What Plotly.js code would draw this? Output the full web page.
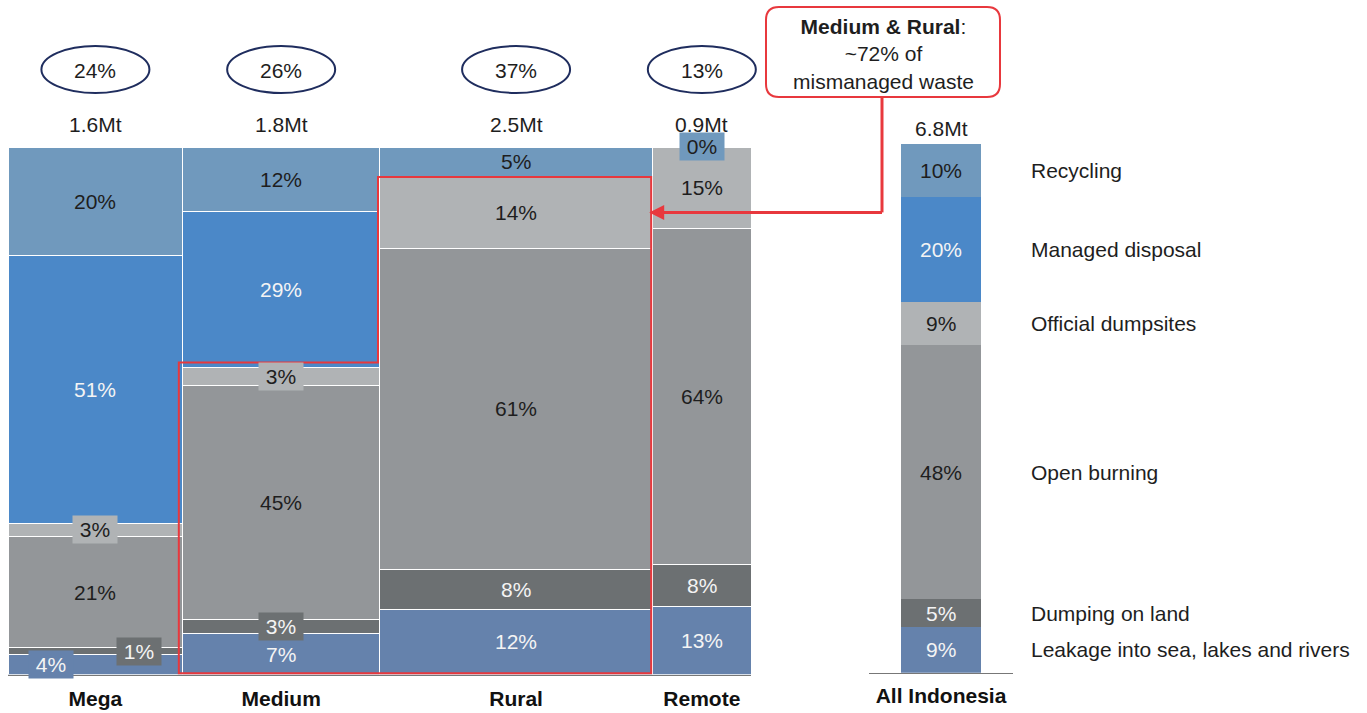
<!DOCTYPE html>
<html>
<head>
<meta charset="utf-8">
<script src="https://cdn.plot.ly/plotly-3.0.1.min.js"></script>
<style>html,body{margin:0;padding:0;background:#fff;}#chart{width:1367px;height:713px;}</style>
</head>
<body>
<div id="chart"></div>
<script>
// ---------- DATA ----------
const categories = ['Mega', 'Medium', 'Rural', 'Remote'];
const tonnes = [1.6, 1.8, 2.5, 0.9];           // Mt of waste per settlement type
const tonneLabels = ['1.6Mt', '1.8Mt', '2.5Mt', '0.9Mt'];
const streams = ['Recycling', 'Managed disposal', 'Official dumpsites', 'Open burning', 'Dumping on land', 'Leakage into sea, lakes and rivers'];

// share (%) of each stream, per category
const recycling = [20.5, 12.3, 5.5, 0];
const managed   = [50.8, 29.5, 0, 0];
const official  = [2.6, 3.5, 13.8, 15.5];
const burning   = [21.0, 44.3, 60.7, 63.7];
const dumping   = [1.3, 2.7, 7.6, 8.0];
const leakage   = [3.8, 7.7, 12.4, 12.8];

// printed labels
const recyclingLbl = ['20%', '12%', '5%', '0%'];
const managedLbl   = ['51%', '29%', '', ''];
const officialLbl  = ['3%', '3%', '14%', '15%'];
const burningLbl   = ['21%', '45%', '61%', '64%'];
const dumpingLbl   = ['1%', '3%', '8%', '8%'];
const leakageLbl   = ['4%', '7%', '12%', '13%'];

// All Indonesia column
const allLabel = 'All Indonesia';
const allTonnes = '6.8Mt';
const allShares = [10.0, 19.9, 8.1, 48.1, 5.3, 8.6];   // same order as streams
const allShareLbl = ['10%', '20%', '9%', '48%', '5%', '9%'];

const calloutTitle = 'Medium & Rural';
const calloutBody = '~72% of<br>mismanaged waste';

// ---------- STYLE ----------
const colors = ['#7099bd', '#4b88c8', '#b0b3b5', '#939699', '#6c7072', '#6582ac'];
const lightText = [false, true, false, false, true, true];
const RED = '#e8383d';
const NAVY = '#1f2d5e';
const FONT = 'Liberation Sans, Arial, Helvetica, sans-serif';
const FS = 21;
const W = 1367, H = 713;
const X0 = 8, X1 = 751, YB = 674.5, YT = 147;       // main plot area (px)
const AX0 = 869, AX1 = 1013, AYB = 672.7, AYT = 144; // All Indonesia area (px)

const totalMt = tonnes.reduce((a, b) => a + b, 0);
const lefts = []; let acc = 0;
tonnes.forEach(t => { lefts.push(acc); acc += t; });
const centers = tonnes.map((t, i) => lefts[i] + t / 2);

const pxX = x => X0 + x / totalMt * (X1 - X0);
const pxY = y => YB - y / 100 * (YB - YT);
const paperX = p => p / W;
const paperY = p => 1 - p / H;

const series = [recycling, managed, official, burning, dumping, leakage];
const seriesLbl = [recyclingLbl, managedLbl, officialLbl, burningLbl, dumpingLbl, leakageLbl];

// stacking order bottom-up: leakage first
const order = [5, 4, 3, 2, 1, 0];
const traces = [];
order.forEach(k => {
  traces.push({
    type: 'bar', x: centers, y: series[k], width: tonnes,
    marker: {color: colors[k], line: {color: '#ffffff', width: 1}},
    name: streams[k], hoverinfo: 'skip', showlegend: false,
    xaxis: 'x', yaxis: 'y'
  });
  traces.push({
    type: 'bar', x: [0.5], y: [allShares[k]], width: [80 / 144],
    marker: {color: colors[k], line: {color: colors[k], width: 0}},
    name: streams[k], hoverinfo: 'skip', showlegend: false,
    xaxis: 'x2', yaxis: 'y2'
  });
});

const annotations = [];
const shapes = [];
const txt = (o) => Object.assign({showarrow: false, xanchor: 'center', yanchor: 'middle'}, o);

// boxed small labels: key -> horizontal shift in px
const boxed = {
  'Mega|2': 0, 'Mega|4': 44, 'Mega|5': -44,
  'Medium|2': 0, 'Medium|4': 0, 'Remote|0': 0
};

categories.forEach((c, i) => {
  let base = 0;
  order.forEach(k => {
    const v = series[k][i];
    const mid = base + v / 2;
    base += v;
    const lbl = seriesLbl[k][i];
    if (!lbl) return;
    const key = c + '|' + k;
    const a = txt({
      x: centers[i], y: mid, xref: 'x', yref: 'y', text: lbl,
      font: {family: FONT, size: FS, color: lightText[k] ? '#f4f4f4' : '#1e1e1e'}
    });
    if (key in boxed) {
      a.bgcolor = colors[k];
      a.width = 42; a.height = 25; a.borderpad = 1;
      a.xshift = boxed[key];
    }
    annotations.push(a);
  });
  // tonnes label
  annotations.push(txt({x: centers[i], y: paperY(124), xref: 'x', yref: 'paper', text: tonneLabels[i],
    font: {family: FONT, size: FS, color: '#1e1e1e'}}));
  // share of total inside ellipse
  const share = Math.round(tonnes[i] / totalMt * 100) + '%';
  annotations.push(txt({x: centers[i], y: paperY(71), xref: 'x', yref: 'paper', text: share,
    font: {family: FONT, size: FS, color: '#1e1e1e'}}));
  const cx = pxX(centers[i]);
  shapes.push({type: 'circle', xref: 'paper', yref: 'paper',
    x0: paperX(cx - 54), x1: paperX(cx + 54), y0: paperY(93), y1: paperY(46),
    line: {color: NAVY, width: 2}, fillcolor: 'rgba(0,0,0,0)'});
});

// All Indonesia labels + legend text
let base2 = 0;
order.forEach(k => {
  const v = allShares[k];
  const mid = base2 + v / 2;
  base2 += v;
  annotations.push(txt({x: 0.5, y: mid, xref: 'x2', yref: 'y2', text: allShareLbl[k],
    font: {family: FONT, size: FS, color: lightText[k] ? '#f4f4f4' : '#1e1e1e'}}));
  annotations.push(txt({x: paperX(1029), y: mid, xref: 'paper', yref: 'y2', xanchor: 'left', text: streams[k],
    font: {family: FONT, size: FS, color: '#1e1e1e'}}));
});
annotations.push(txt({x: 0.5, y: paperY(128), xref: 'x2', yref: 'paper', text: allTonnes,
  font: {family: FONT, size: FS, color: '#1e1e1e'}}));

// Red outline around Medium (mismanaged part) and Rural (mismanaged part)
const medTop = 100 - recycling[1] - managed[1];
const rurTop = 100 - recycling[2] - managed[2];
const lx = pxX(lefts[1]) - 4, mx = pxX(lefts[2]) - 1.5, rx = pxX(lefts[2] + tonnes[2]) - 1.5;
const my = pxY(medTop) - 5, ry = pxY(rurTop) + 1, by = 673.3;
const P = (x, y) => paperX(x).toFixed(5) + ',' + paperY(y).toFixed(5);
shapes.push({type: 'path', xref: 'paper', yref: 'paper',
  path: 'M' + P(lx, my) + ' L' + P(mx, my) + ' L' + P(mx, ry) + ' L' + P(rx, ry) + ' L' + P(rx, by) + ' L' + P(lx, by) + ' Z',
  line: {color: RED, width: 2}, fillcolor: 'rgba(0,0,0,0)'});

// Callout box (rounded)
const bx0 = 766, bx1 = 1000, by0 = 7, by1 = 97, r = 13;
shapes.push({type: 'path', xref: 'paper', yref: 'paper',
  path: 'M' + P(bx0 + r, by0) + ' L' + P(bx1 - r, by0) + ' Q' + P(bx1, by0) + ' ' + P(bx1, by0 + r) +
        ' L' + P(bx1, by1 - r) + ' Q' + P(bx1, by1) + ' ' + P(bx1 - r, by1) +
        ' L' + P(bx0 + r, by1) + ' Q' + P(bx0, by1) + ' ' + P(bx0, by1 - r) +
        ' L' + P(bx0, by0 + r) + ' Q' + P(bx0, by0) + ' ' + P(bx0 + r, by0) + ' Z',
  line: {color: RED, width: 2}, fillcolor: '#ffffff'});
annotations.push(txt({x: paperX(884), y: paperY(54), xref: 'paper', yref: 'paper',
  text: '<b>' + calloutTitle + '</b>:<br>' + calloutBody, align: 'center',
  font: {family: FONT, size: FS, color: '#1e1e1e'}}));

// connector + arrow
const arrowY = pxY(100 - recycling[2] - official[2] / 2);
shapes.push({type: 'line', xref: 'paper', yref: 'paper',
  x0: paperX(882), x1: paperX(882), y0: paperY(by1), y1: paperY(arrowY),
  line: {color: RED, width: 3}});
annotations.push({x: paperX(rx - 2), y: paperY(arrowY), xref: 'paper', yref: 'paper',
  ax: paperX(883.5), ay: paperY(arrowY), axref: 'paper', ayref: 'paper',
  text: '', showarrow: true, arrowhead: 2, arrowsize: 1, arrowwidth: 3, arrowcolor: RED});

const layout = {
  width: W, height: H,
  margin: {l: 0, r: 0, t: 0, b: 0},
  paper_bgcolor: '#ffffff', plot_bgcolor: '#ffffff',
  barmode: 'stack', showlegend: false,
  xaxis: {domain: [X0 / W, X1 / W], range: [0, totalMt], showgrid: false, zeroline: false,
    showline: true, linecolor: '#777777', linewidth: 1, ticks: '',
    tickmode: 'array', tickvals: centers, ticktext: categories.map(c => '<b>' + c + '</b>'),
    ticklabelstandoff: 5, tickfont: {family: FONT, size: 21, color: '#111111'}, fixedrange: true, anchor: 'y'},
  yaxis: {domain: [1 - YB / H, 1 - YT / H], range: [0, 100], visible: false, fixedrange: true, anchor: 'x'},
  xaxis2: {domain: [AX0 / W, AX1 / W], range: [0, 1], showgrid: false, zeroline: false,
    showline: true, linecolor: '#777777', linewidth: 1, ticks: '',
    tickmode: 'array', tickvals: [0.5], ticktext: ['<b>' + allLabel + '</b>'],
    ticklabelstandoff: 4, tickfont: {family: FONT, size: 21, color: '#111111'}, fixedrange: true, anchor: 'y2'},
  yaxis2: {domain: [1 - AYB / H, 1 - AYT / H], range: [0, 100], visible: false, fixedrange: true, anchor: 'x2'},
  annotations: annotations,
  shapes: shapes
};

Plotly.newPlot('chart', traces, layout, {displayModeBar: false, staticPlot: true});
</script>
</body>
</html>
